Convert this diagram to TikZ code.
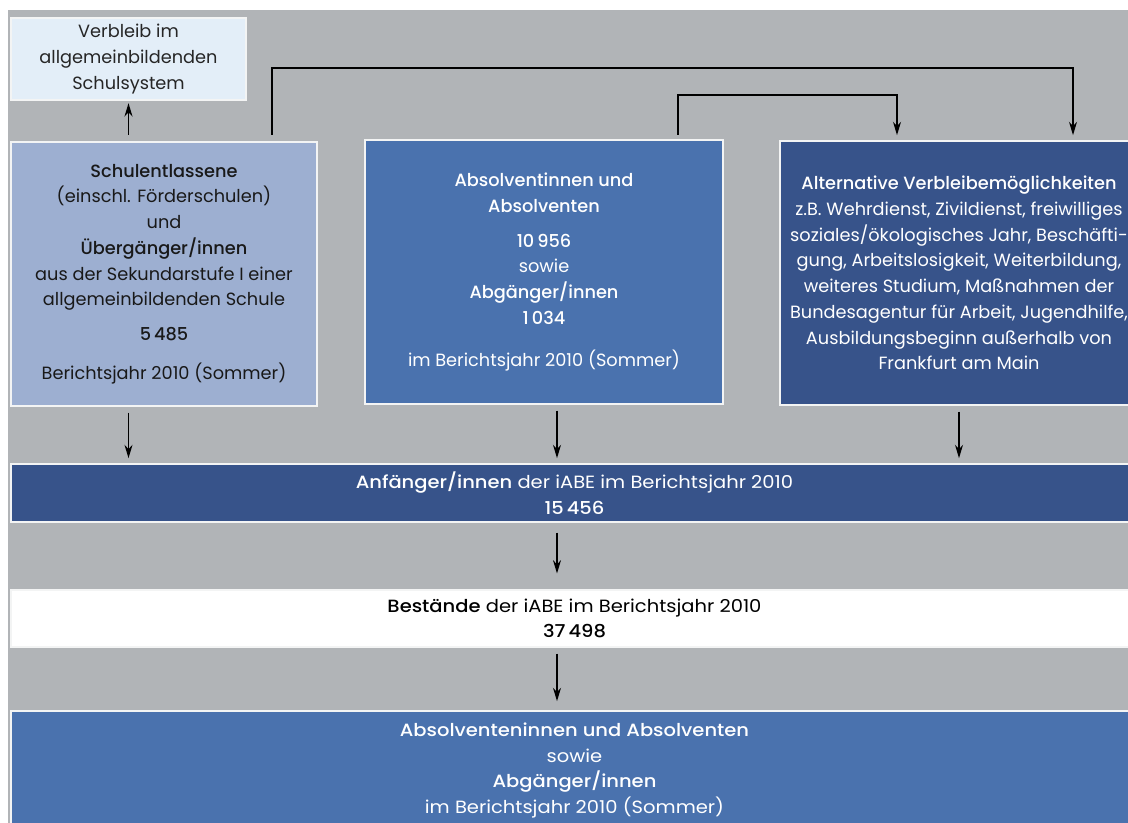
\documentclass[tikz,border=0pt]{standalone}
\usepackage{fontspec}
\setmainfont{Poppins}[BoldFont={Poppins Medium}]
\newfontfamily\widefont{Poppins}[FakeStretch=1.1, BoldFont={Poppins Medium}]
\usetikzlibrary{arrows.meta}
\definecolor{fgrey}{HTML}{B1B4B7}
\definecolor{fpale}{HTML}{E3EEF8}
\definecolor{flight}{HTML}{9DAFD1}
\definecolor{fmid}{HTML}{4A72AE}
\definecolor{fdark}{HTML}{37538A}

\begin{document}
\begin{tikzpicture}[x=0.75pt, y=-0.75pt, >={Stealth[length=10pt,width=6pt]},
    font=\fontsize{13.3}{19.3}\selectfont,
    box/.style={draw=white!85!fgrey, line width=0.8pt, align=center,
      inner sep=0pt, minimum width=#1},
    box/.default=268.5pt,
    bar/.style={box=845.25pt, font=\widefont\fontsize{13.3}{19.3}\selectfont},
    arr/.style={->, line width=1pt, black}]
  % x, y in pixels of the 1128 x 823 sheet, y downwards
  \useasboundingbox (0,0) rectangle (1128,823);
  \clip (0,0) rectangle (1128,823);
  \fill[fgrey] (8,10) rectangle (1140,830);

  % top row
  \node[box=176.25pt, fill=fpale, minimum height=61.5pt, text=black!85]
    (verbleib) at (128.5,59) {Verbleib im\\allgemeinbildenden\\Schulsystem};
  \node[box=229.5pt, fill=flight, minimum height=198pt, text=black!90]
    (schul) at (164,274) {\textbf{Schulentlassene}\\
      (einschl. Förderschulen)\\und\\\textbf{Übergänger/innen}\\
      aus der Sekundarstufe I einer\\allgemeinbildenden Schule\\[6.5pt]
      \textbf{5\,485}\\[10pt]Berichtsjahr 2010 (Sommer)};
  \node[box, fill=fmid, minimum height=198pt, text=white]
    (absolv) at (544,272) {\textbf{Absolventinnen und}\\\textbf{Absolventen}\\[6.5pt]
      \textbf{10\,956}\\sowie\\\textbf{Abgänger/innen}\\\textbf{1\,034}\\[12pt]
      im Berichtsjahr 2010 (Sommer)};
  \node[box, fill=fdark, minimum height=198pt, text=white]
    (altern) at (959,273) {\textbf{Alternative Verbleibemöglichkeiten}\\
      z.B. Wehrdienst, Zivildienst, freiwilliges\\
      soziales/ökologisches Jahr, Beschäfti-\\
      gung, Arbeitslosigkeit, Weiterbildung,\\
      weiteres Studium, Maßnahmen der\\
      Bundesagentur für Arbeit, Jugendhilfe,\\
      Ausbildungsbeginn außerhalb von\\
      Frankfurt am Main};

  % full-width bars
  \node[bar, fill=fdark, minimum height=43.5pt, text=white]
    (anf) at (574.5,493) {\textbf{Anfänger/innen} der iABE im Berichtsjahr 2010\\
      \textbf{15\,456}};
  \node[bar, fill=white, minimum height=42.75pt, text=black]
    (bestand) at (574.5,618.5) {\textbf{Bestände} der iABE im Berichtsjahr 2010\\
      \textbf{37\,498}};
  \node[bar, fill=fmid, minimum height=89.25pt, text=white]
    (abschluss) at (574.5,770.5) {\textbf{Absolventeninnen und Absolventen}\\
      sowie\\\textbf{Abgänger/innen}\\im Berichtsjahr 2010 (Sommer)};

  % connectors
  \coordinate (sTop) at (272,135);
  \coordinate (aTop) at (678,135);
  \coordinate (midx) at (557,0);
  \draw[arr] ([yshift=5pt]schul.north -| verbleib.south) -- ([yshift=-2pt]verbleib.south);
  \draw[arr] (sTop) -- (272,68) -| ([yshift=4pt]altern.north -| 1073,0);
  \draw[arr] (aTop) -- (678,95) -| ([yshift=4pt]altern.north -| 897,0);
  \draw[arr] ([yshift=-4.5pt]schul.south -| verbleib.south) -- ([yshift=4pt]anf.north -| verbleib.south);
  \draw[arr] ([yshift=-4.5pt]absolv.south -| midx) -- ([yshift=4pt]anf.north -| midx);
  \draw[arr] ([yshift=-4.5pt]altern.south) -- ([yshift=4pt]anf.north -| altern.south);
  \draw[arr] ([yshift=-7.5pt]anf.south -| midx) -- ([yshift=12pt]bestand.north -| midx);
  \draw[arr] ([yshift=-4.5pt]bestand.south -| midx) -- ([yshift=7pt]abschluss.north -| midx);
\end{tikzpicture}
\end{document}
